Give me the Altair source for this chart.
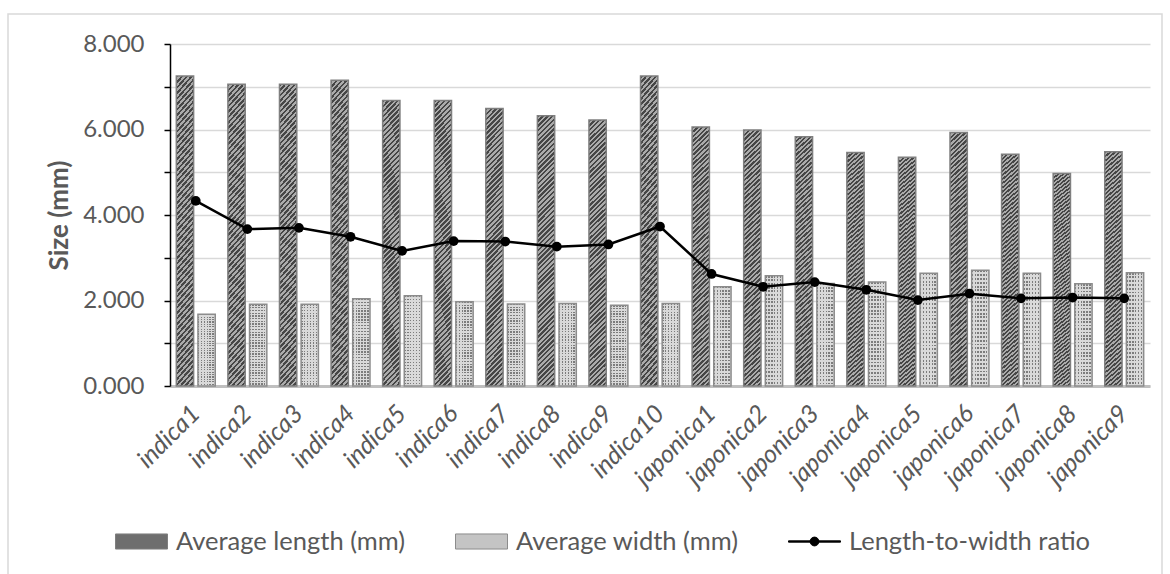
import altair as alt
import pandas as pd

# Grain size of rice cultivars
cultivars = [
    "indica1", "indica2", "indica3", "indica4", "indica5", "indica6", "indica7",
    "indica8", "indica9", "indica10", "japonica1", "japonica2", "japonica3",
    "japonica4", "japonica5", "japonica6", "japonica7", "japonica8", "japonica9",
]
avg_length = [7.25, 7.06, 7.06, 7.15, 6.68, 6.68, 6.49, 6.32, 6.22, 7.25,
              6.06, 5.99, 5.83, 5.46, 5.35, 5.93, 5.42, 4.97, 5.48]
avg_width = [1.68, 1.91, 1.91, 2.04, 2.11, 1.97, 1.92, 1.93, 1.89, 1.93,
             2.32, 2.58, 2.40, 2.43, 2.64, 2.71, 2.64, 2.39, 2.65]
lw_ratio = [4.33, 3.67, 3.70, 3.49, 3.16, 3.39, 3.38, 3.26, 3.31, 3.73,
            2.62, 2.32, 2.43, 2.25, 2.01, 2.16, 2.05, 2.07, 2.05]

LEN = "Average length (mm)"
WID = "Average width (mm)"
RAT = "Length-to-width ratio"
series_names = [LEN, WID, RAT]

FONT = "Lato"
TEXT = "#595959"

bars = pd.DataFrame(
    [{"cultivar": c, "series": LEN, "value": v} for c, v in zip(cultivars, avg_length)]
    + [{"cultivar": c, "series": WID, "value": v} for c, v in zip(cultivars, avg_width)]
)
ratio_df = pd.DataFrame({"cultivar": cultivars, "value": lw_ratio})
legend_df = pd.DataFrame({"series": series_names})


def stripes(c1, c2, n, x1, y1, x2, y2):
    stops = []
    for i in range(n):
        a, m, b = i / n, (i + 0.5) / n, (i + 1) / n
        stops += [
            alt.GradientStop(color=c1, offset=round(a, 5)),
            alt.GradientStop(color=c1, offset=round(m, 5)),
            alt.GradientStop(color=c2, offset=round(m, 5)),
            alt.GradientStop(color=c2, offset=round(b, 5)),
        ]
    return alt.LinearGradient(gradient="linear", stops=stops, x1=x1, y1=y1, x2=x2, y2=y2)


# diagonal hatch for the length bars (45 degrees for a bar about 17 x 265 px)
ratio_wh = 17.0 / 265.0
s = (ratio_wh + 1) / (ratio_wh ** 2 + 1)
hatch = stripes("#464646", "#ababab", 60, 0, 0, s * ratio_wh, s)
# dotted fill for the width bars: dot rows underneath, light columns on top
dot_rows = stripes("#7c7c7c", "#d9d9d9", 30, 0, 0, 0, 1)
dot_cols = stripes("rgba(217,217,217,0)", "#d9d9d9", 6, 0, 0, 1, 0)

x_enc = alt.X(
    "cultivar:N",
    sort=cultivars,
    scale=alt.Scale(domain=cultivars, paddingInner=0.22, paddingOuter=0.11),
    axis=alt.Axis(
        title=None, labelAngle=-45, labelFontStyle="italic", labelFont=FONT,
        labelFontSize=25, labelColor=TEXT, labelPadding=23, ticks=False,
        domainColor="#bfbfbf", domainWidth=3, grid=False, labelAlign="right",
        labelBaseline="middle",
    ),
)
y_enc = alt.Y(
    "value:Q",
    scale=alt.Scale(domain=[0, 8], nice=False),
    axis=alt.Axis(
        title="Size (mm)", titleFont=FONT, titleFontSize=26, titleFontWeight="bold",
        titleColor=TEXT, titlePadding=10,
        values=[i * 0.5 for i in range(17)],
        labelExpr="datum.value % 2 === 0 ? format(datum.value, '.3f') : ''",
        labelFont=FONT, labelFontSize=24, labelColor=TEXT, labelPadding=20,
        domainColor="#000000", domainWidth=1.5, tickColor="#000000", tickWidth=1.5,
        tickSize=6,
        gridColor={"condition": {"test": "datum.value % 1 === 0", "value": "#d9d9d9"},
                   "value": "#eeeeee"},
        gridWidth=1.5,
    ),
)
x_off = alt.XOffset(
    "series:N",
    scale=alt.Scale(domain=[LEN, WID], paddingInner=0.2, paddingOuter=0.03),
)

base_bars = alt.Chart(bars)

length_bars = base_bars.transform_filter(alt.datum.series == LEN).mark_bar(
    fill=hatch, stroke="#7f7f7f", strokeWidth=1.5
).encode(x=x_enc, y=y_enc, xOffset=x_off)

width_rows = base_bars.transform_filter(alt.datum.series == WID).mark_bar(
    fill=dot_rows
).encode(x=x_enc, y=y_enc, xOffset=x_off)

width_cols = base_bars.transform_filter(alt.datum.series == WID).mark_bar(
    fill=dot_cols, stroke="#8c8c8c", strokeWidth=1.5
).encode(x=x_enc, y=y_enc, xOffset=x_off)

ratio_line = alt.Chart(ratio_df).mark_line(color="#000000", strokeWidth=2.5).encode(
    x=alt.X("cultivar:N", sort=cultivars), y="value:Q"
)
ratio_pts = alt.Chart(ratio_df).mark_point(
    filled=True, color="#000000", size=95, opacity=1
).encode(x=alt.X("cultivar:N", sort=cultivars), y="value:Q")

rect_path = "M-1,-0.29H1V0.29H-1Z"
line_path = ("M-1,-0.025H1V0.025H-1Z"
             "M0.17,0A0.17,0.17 0 1,1 -0.17,0A0.17,0.17 0 1,1 0.17,0Z")

legend_style = alt.Legend(
    title=None, orient="none", legendX=-55, legendY=471, direction="horizontal",
    labelFont=FONT, labelFontSize=25.5, labelColor=TEXT, labelLimit=0,
    symbolSize=2704, symbolOpacity=1, symbolStrokeWidth=1, columnPadding=47,
    labelOffset=8,
)

legend_layer = alt.Chart(legend_df).mark_point(filled=True, opacity=0).encode(
    x=alt.value(0),
    y=alt.value(0),
    color=alt.Color(
        "series:N",
        scale=alt.Scale(domain=series_names, range=["#6e6e6e", "#c4c4c4", "#000000"]),
        legend=legend_style,
    ),
    shape=alt.Shape(
        "series:N",
        scale=alt.Scale(domain=series_names, range=[rect_path, rect_path, line_path]),
        legend=legend_style,
    ),
    stroke=alt.Stroke(
        "series:N",
        scale=alt.Scale(domain=series_names, range=["#7f7f7f", "#8c8c8c", "#000000"]),
        legend=legend_style,
    ),
)

# thin frame around the whole figure
frame = alt.Chart(pd.DataFrame({"k": [0]})).mark_rect(
    fill=None, stroke="#d9d9d9", strokeWidth=1.5
).encode(
    x=alt.value(-162), x2=alt.value(992), y=alt.value(-30), y2=alt.value(560)
)

chart = alt.layer(
    frame, length_bars, width_rows, width_cols, ratio_line, ratio_pts, legend_layer
).properties(
    width=980,
    height=342,
    autosize=alt.AutoSizeParams(type="none"),
    padding={"left": 170, "top": 44, "right": 20, "bottom": 188},
    background="#ffffff",
).configure_view(stroke=None)

chart.save("out.html", embed_options={"renderer": "svg", "actions": False})
